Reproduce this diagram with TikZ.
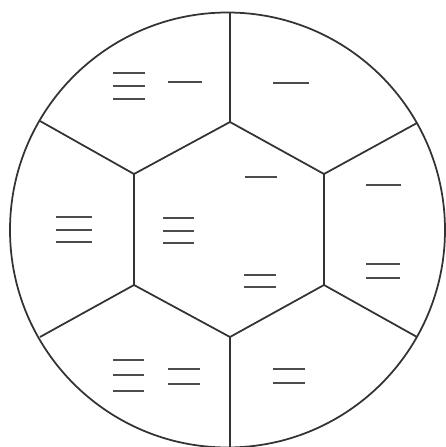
\documentclass[tikz,border=0pt]{standalone}
\begin{document}
\begin{tikzpicture}[x=0.02cm,y=-0.02cm,
  frame/.style={draw=black!80,line width=1pt},
  dashline/.style={draw=black!70,line width=1.2pt}]
\useasboundingbox (0,0) rectangle (446,447);
% circle
\coordinate (c) at (227.5,230);
\draw[frame] (c) circle[radius=217.5*0.02cm];
% hexagon vertices
\coordinate (ht) at (230,122);
\coordinate (hur) at (324,174);
\coordinate (hlr) at (324,285);
\coordinate (hb) at (230,337);
\coordinate (hll) at (134,285);
\coordinate (hul) at (134,174);
\draw[frame] (ht) -- (hur) -- (hlr) -- (hb) -- (hll) -- (hul) -- cycle;
% spoke ends on circle
\coordinate (st) at (230,12.5);
\coordinate (sur) at (417,123);
\coordinate (slr) at (417,337);
\coordinate (sb) at (230,448);
\coordinate (sll) at (40,337);
\coordinate (sul) at (40,121);
\draw[frame] (ht) -- (st);
\draw[frame] (hur) -- (sur);
\draw[frame] (hlr) -- (slr);
\draw[frame] (hb) -- (sb);
\draw[frame] (hll) -- (sll);
\draw[frame] (hul) -- (sul);
% marks: top-left sector
\draw[dashline] (113,73) -- (145,73);
\draw[dashline] (113,86) -- (145,86);
\draw[dashline] (113,99) -- (145,99);
\draw[dashline] (168,82) -- (202,82);
% top-right sector
\draw[dashline] (273,83) -- (309,83);
% left sector
\draw[dashline] (56,217) -- (92,217);
\draw[dashline] (56,230) -- (92,230);
\draw[dashline] (56,242) -- (92,242);
% centre
\draw[dashline] (163,218) -- (194,218);
\draw[dashline] (163,231) -- (194,231);
\draw[dashline] (163,243) -- (194,243);
\draw[dashline] (245,177) -- (277,177);
\draw[dashline] (244,275) -- (276,275);
\draw[dashline] (244,287) -- (276,287);
% right sector
\draw[dashline] (366,185) -- (401,185);
\draw[dashline] (366,264) -- (400,264);
\draw[dashline] (366,278) -- (400,278);
% bottom-left sector
\draw[dashline] (113,360) -- (144,360);
\draw[dashline] (113,375) -- (144,375);
\draw[dashline] (113,391) -- (144,391);
\draw[dashline] (168,369) -- (200,369);
\draw[dashline] (168,384) -- (200,384);
% bottom-right sector
\draw[dashline] (273,369) -- (305,369);
\draw[dashline] (273,383) -- (305,383);
\end{tikzpicture}
\end{document}
